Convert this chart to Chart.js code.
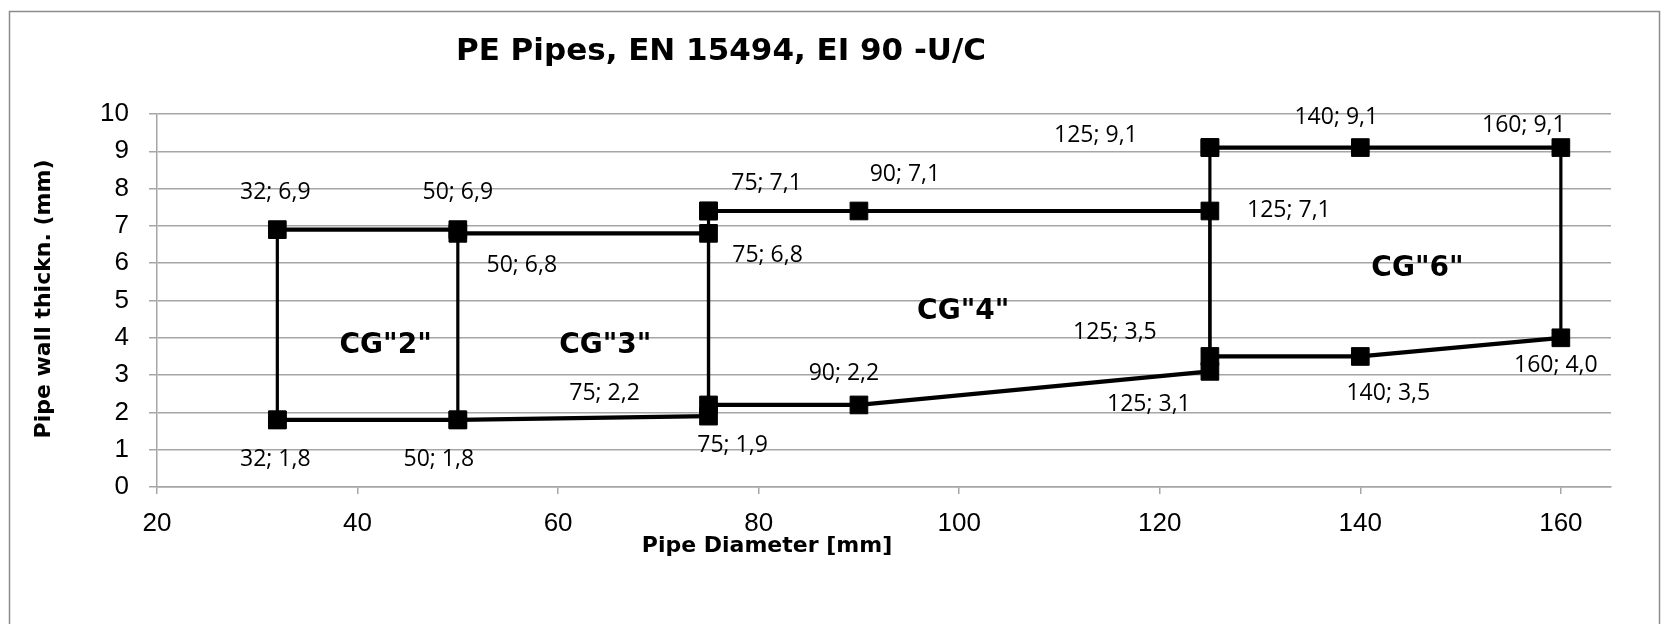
<!DOCTYPE html>
<html>
<head>
<meta charset="utf-8">
<script src="https://cdn.jsdelivr.net/npm/chart.js@4"></script>
<style>
  body { margin: 0; background: #fff; }
</style>
</head>
<body>
<canvas id="pipes" width="1670" height="624"></canvas>
<script>
// Outline of each size group (pipe diameter / wall thickness)
const cg2X = [32, 32, 50, 50, 32];
const cg2Y = [1.8, 6.9, 6.9, 1.8, 1.8];
const cg3X = [50, 75, 75, 50];
const cg3Y = [6.8, 6.8, 1.9, 1.8];
const cg4X = [75, 90, 125, 125, 90, 75, 75];
const cg4Y = [7.4, 7.4, 7.4, 3.1, 2.2, 2.2, 7.4];
const cg6X = [125, 140, 160, 160, 140, 125, 125];
const cg6Y = [9.1, 9.1, 9.1, 4.0, 3.5, 3.5, 9.1];

// Point labels as printed on the chart, and the point each belongs to
const labelText = ['32; 6,9', '50; 6,9', '50; 6,8', '75; 7,1', '75; 6,8', '90; 7,1',
  '125; 9,1', '140; 9,1', '160; 9,1', '125; 7,1', '125; 3,5', '125; 3,1',
  '140; 3,5', '160; 4,0', '90; 2,2', '75; 2,2', '75; 1,9', '32; 1,8', '50; 1,8'];
const labelX = [32, 50, 50, 75, 75, 90, 125, 140, 160, 125, 125, 125, 140, 160, 90, 75, 75, 32, 50];
const labelY = [6.9, 6.9, 6.8, 7.4, 6.8, 7.4, 9.1, 9.1, 9.1, 7.4, 3.5, 3.1, 3.5, 4.0, 2.2, 2.2, 1.9, 1.8, 1.8];

// Group names inside the outlines
const groupNames = ['CG"2"', 'CG"3"', 'CG"4"', 'CG"6"'];
const groupX = [42.8, 64.7, 100.4, 145.7];
const groupY = [3.8, 3.8, 4.7, 5.85];

const xTicks = [20, 40, 60, 80, 100, 120, 140, 160];

// label placement (pixels away from the point)
const labelOffsets = [[-2, -37], [0, -37], [64, 32], [58, -28], [59, 22], [46, -37],
  [-114, -12], [-24, -30], [-37, -22], [79, -1], [-95, -24], [-61, 33],
  [28, 37], [-5, 28], [-15, -31], [-104, -11], [24, 29], [-2, 40], [-19, 40]];

function toPoints(xs, ys) {
  return xs.map((x, i) => ({ x: x, y: ys[i] }));
}

function groupSet(xs, ys) {
  return {
    data: toPoints(xs, ys),
    showLine: true,
    borderColor: '#000',
    borderWidth: 4,
    segment: {
      borderWidth: ctx => ctx.p0.parsed.x === ctx.p1.parsed.x ? 3.2 : 4.2
    },
    pointStyle: 'rect',
    pointRadius: 12.5,
    pointHoverRadius: 12.5,
    pointBackgroundColor: '#000',
    pointBorderColor: '#000',
    pointBorderWidth: 1
  };
}

const gridGray = '#a6a6a6';

const decorations = {
  id: 'decorations',
  beforeDraw(chart) {
    const ctx = chart.ctx;
    ctx.save();
    ctx.strokeStyle = '#8c8c8c';
    ctx.lineWidth = 1.5;
    ctx.strokeRect(9.5, 11.5, 1650, 700);
    ctx.restore();
  },
  afterDatasetsDraw(chart) {
    const ctx = chart.ctx;
    const xs = chart.scales.x, ys = chart.scales.y;
    ctx.save();
    ctx.fillStyle = '#000';
    ctx.textAlign = 'center';
    ctx.textBaseline = 'middle';

    ctx.font = '23px "Open Sans"';
    labelText.forEach((t, i) => {
      const px = xs.getPixelForValue(labelX[i]) + labelOffsets[i][0];
      const py = ys.getPixelForValue(labelY[i]) + labelOffsets[i][1];
      ctx.fillText(t, px, py);
    });

    ctx.font = 'bold 28px "DejaVu Sans"';
    groupNames.forEach((t, i) => {
      ctx.fillText(t, xs.getPixelForValue(groupX[i]), ys.getPixelForValue(groupY[i]));
    });

    // titles
    ctx.font = 'bold 31px "DejaVu Sans"';
    ctx.fillText('PE Pipes, EN 15494, EI 90 -U/C', 721, 52);
    ctx.font = 'bold 22px "DejaVu Sans"';
    ctx.fillText('Pipe Diameter [mm]', 767, 546);
    ctx.translate(44, 299);
    ctx.rotate(-Math.PI / 2);
    ctx.fillText('Pipe wall thickn. (mm)', 0, 0);
    ctx.restore();
  }
};

new Chart(document.getElementById('pipes'), {
  type: 'scatter',
  data: {
    datasets: [
      groupSet(cg2X, cg2Y),
      groupSet(cg3X, cg3Y),
      groupSet(cg4X, cg4Y),
      groupSet(cg6X, cg6Y)
    ]
  },
  options: {
    responsive: false,
    animation: false,
    layout: { padding: { top: 114, right: 59, left: 0, bottom: 0 } },
    plugins: {
      legend: { display: false },
      tooltip: { enabled: false }
    },
    scales: {
      x: {
        type: 'linear',
        min: 20,
        max: 165,
        afterBuildTicks: scale => {
          scale.ticks = xTicks.map(v => ({ value: v }));
        },
        afterFit: scale => { scale.height = 137; },
        ticks: {
          color: '#000',
          font: { family: '"Liberation Sans"', size: 26 },
          padding: 14,
          maxRotation: 0
        },
        grid: { drawOnChartArea: false, color: gridGray, tickLength: 7, lineWidth: 1.5 },
        border: { color: gridGray, width: 1.5 }
      },
      y: {
        min: 0,
        max: 10,
        afterFit: scale => { scale.width = 157; },
        ticks: {
          stepSize: 1,
          color: '#000',
          font: { family: '"Liberation Sans"', size: 26 },
          padding: 20
        },
        grid: { color: gridGray, tickLength: 8, lineWidth: 1.5 },
        border: { color: gridGray, width: 1.5 }
      }
    }
  },
  plugins: [decorations]
});
</script>
</body>
</html>
